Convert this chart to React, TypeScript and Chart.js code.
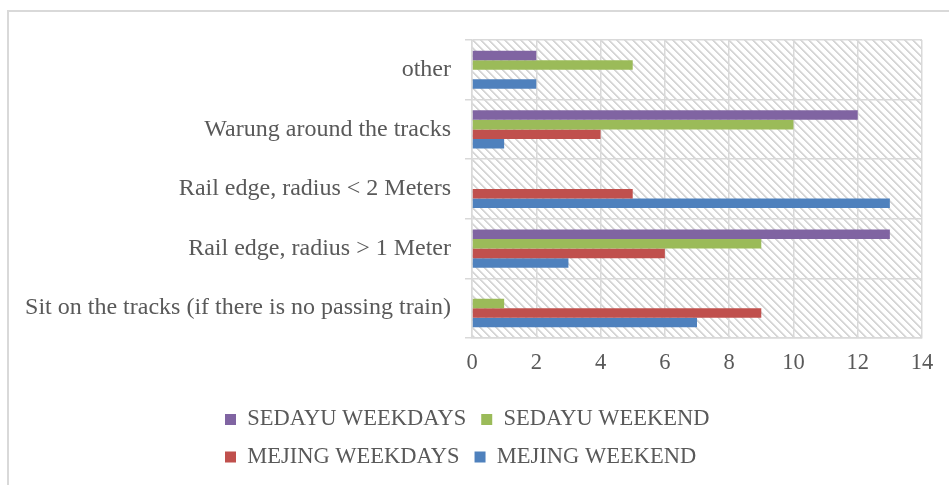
import { useEffect, useRef } from 'react';
import { Chart, registerables } from 'chart.js';

Chart.register(...registerables);

const categories = [
  'other',
  'Warung around the tracks',
  'Rail edge, radius < 2 Meters',
  'Rail edge, radius > 1 Meter',
  'Sit on the tracks (if there is no passing train)',
];
const seriesNames = ['SEDAYU WEEKDAYS', 'SEDAYU WEEKEND', 'MEJING WEEKDAYS', 'MEJING WEEKEND'];
const sedayuWeekdays = [2, 12, 0, 13, 0];
const sedayuWeekend = [5, 10, 0, 9, 1];
const mejingWeekdays = [0, 4, 5, 6, 9];
const mejingWeekend = [2, 1, 13, 3, 7];
const xMin = 0;
const xMax = 14;
const xStep = 2;

const seriesColors = ['#8064A2', '#9BBB59', '#C0504D', '#4F81BD'];
const gridColor = '#d9d9d9';
const textColor = '#595959';
const fontFamily = "'Liberation Serif', 'Times New Roman', serif";

const LEFT_PAD = 210;

function makeHatch(ctx: CanvasRenderingContext2D) {
  const c = document.createElement('canvas');
  c.width = 8;
  c.height = 8;
  const g = c.getContext('2d')!;
  g.fillStyle = '#ffffff';
  g.fillRect(0, 0, 8, 8);
  for (let y = 0; y < 8; y++) {
    for (let x = 0; x < 8; x++) {
      const d = (((x - y) % 8) + 8) % 8;
      if (d === 0 || d === 1) {
        g.fillStyle = '#d6d6d6';
        g.fillRect(x, y, 1, 1);
      } else if (d === 2) {
        g.fillStyle = '#ebebeb';
        g.fillRect(x, y, 1, 1);
      }
    }
  }
  return ctx.createPattern(c, 'repeat');
}

export default function App() {
  const canvasRef = useRef<HTMLCanvasElement | null>(null);

  useEffect(() => {
    const canvas = canvasRef.current;
    if (!canvas) return;
    const ctx = canvas.getContext('2d')!;
    const hatch = makeHatch(ctx);

    const plotBackground = {
      id: 'plotBackground',
      beforeDraw(chart: any) {
        const { ctx: c, chartArea } = chart;
        if (!chartArea || !hatch) return;
        c.save();
        c.fillStyle = hatch;
        c.fillRect(chartArea.left, chartArea.top, chartArea.right - chartArea.left, chartArea.bottom - chartArea.top);
        c.restore();
      },
    };

    const unclipYLabels = {
      id: 'unclipYLabels',
      afterLayout(chart: any) {
        const y = chart.scales.y;
        if (y) y.left = 0;
      },
    };

    const seriesData = [sedayuWeekdays, sedayuWeekend, mejingWeekdays, mejingWeekend];

    const chart = new Chart(ctx, {
      type: 'bar',
      data: {
        labels: categories,
        datasets: seriesNames.map((name, i) => ({
          label: name,
          data: seriesData[i],
          backgroundColor: seriesColors[i],
          borderWidth: 0,
          barPercentage: 1,
          categoryPercentage: 0.64,
        })),
      },
      options: {
        indexAxis: 'y',
        responsive: false,
        animation: false,
        devicePixelRatio: 1,
        layout: { padding: { top: 40, right: 27, bottom: 6.75, left: LEFT_PAD } },
        plugins: {
          legend: {
            position: 'bottom',
            align: 'start',
            labels: {
              boxWidth: 11,
              boxHeight: 11,
              padding: 15,
              color: textColor,
              font: { family: fontFamily, size: 22.5 },
            },
          },
          tooltip: { enabled: false },
        },
        scales: {
          x: {
            min: xMin,
            max: xMax,
            ticks: {
              stepSize: xStep,
              color: textColor,
              padding: 12,
              font: { family: fontFamily, size: 22.5 },
            },
            grid: { color: gridColor, lineWidth: 1.5, drawTicks: false },
            border: { display: true, color: gridColor, width: 1.5 },
            afterFit(scale: any) {
              scale.height = 55.25;
            },
          },
          y: {
            ticks: {
              color: textColor,
              padding: 14,
              autoSkip: false,
              font: { family: fontFamily, size: 24 },
            },
            grid: { color: gridColor, lineWidth: 1.5, tickLength: 7 },
            border: { display: true, color: gridColor, width: 1.5 },
            afterFit(scale: any) {
              scale.width = 472 - LEFT_PAD;
            },
          },
        },
      },
      plugins: [plotBackground, unclipYLabels],
    } as any);

    return () => chart.destroy();
  }, []);

  return (
    <div style={{ position: 'fixed', left: 0, top: 0, width: 949, height: 485, overflow: 'hidden', background: '#fff' }}>
      <canvas ref={canvasRef} width={949} height={485} style={{ position: 'absolute', left: 0, top: 0, width: 949, height: 485 }} />
      <div
        style={{
          position: 'absolute',
          left: 7,
          top: 10,
          width: 1000,
          height: 1000,
          borderLeft: '2px solid #d9d9d9',
          borderTop: '2px solid #d9d9d9',
          pointerEvents: 'none',
        }}
      />
    </div>
  );
}
